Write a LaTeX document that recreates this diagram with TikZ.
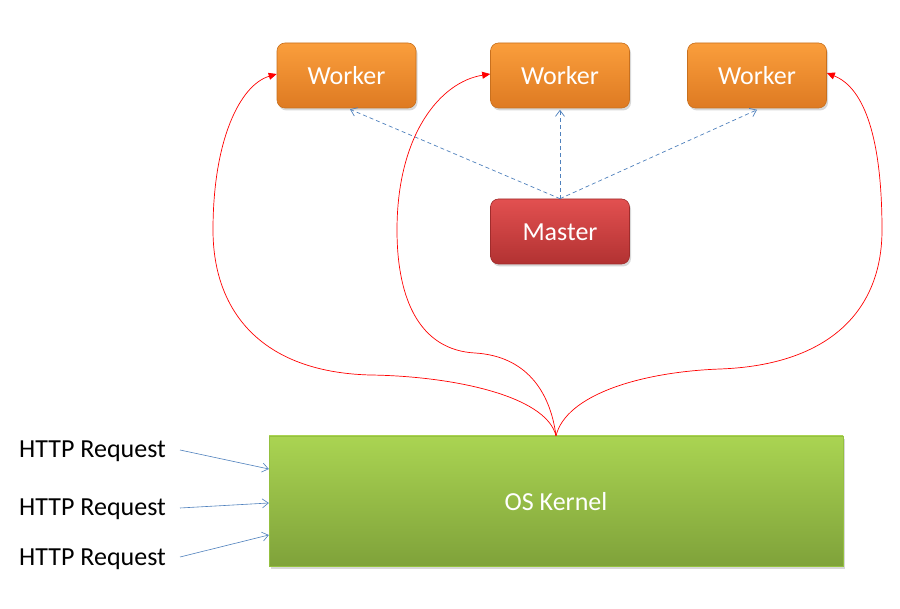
\documentclass[tikz,border=0pt]{standalone}
\usepackage{fontspec}
\setmainfont{Carlito}
\usetikzlibrary{arrows.meta,shadows}
\definecolor{wtop}{HTML}{FA9E3C}
\definecolor{wbot}{HTML}{DE7A22}
\definecolor{wdraw}{HTML}{C8701E}
\definecolor{mtop}{HTML}{E25050}
\definecolor{mbot}{HTML}{B23232}
\definecolor{mdraw}{HTML}{A02C2C}
\definecolor{ktop}{HTML}{AAD452}
\definecolor{kbot}{HTML}{7FA23A}
\definecolor{kdraw}{HTML}{94C040}
\definecolor{linkblue}{HTML}{4F81BD}
\tikzset{
  boxbase/.style={minimum width=139pt, minimum height=65pt, rounded corners=8pt,
    text=white, font=\fontsize{26}{30}\selectfont, line width=0.6pt,
    text depth=0pt, text height=19pt,
    drop shadow={shadow xshift=1.5pt, shadow yshift=-2.5pt, opacity=0.3}},
  workerbox/.style={boxbase, draw=wdraw, top color=wtop, bottom color=wbot},
  masterbox/.style={boxbase, draw=mdraw, top color=mtop, bottom color=mbot},
  kernelbox/.style={minimum width=574pt, minimum height=130pt, draw=kdraw,
    top color=ktop, bottom color=kbot, text=white, font=\fontsize{26}{30}\selectfont,
    text depth=0pt, text height=20pt,
    drop shadow={shadow xshift=2pt, shadow yshift=-3pt, opacity=0.3}},
  reqtext/.style={anchor=base west, inner sep=0pt, font=\fontsize{26}{30}\selectfont},
  reqarrow/.style={draw=linkblue, line width=0.6pt, -{Straight Barb[length=6pt,width=9pt]}},
  ctrlarrow/.style={draw=linkblue, line width=0.7pt, dash pattern=on 4pt off 3pt,
    -{Straight Barb[length=6pt,width=9pt]}},
  forkarrow/.style={draw=red, line width=0.7pt, -{Triangle[length=8pt,width=7pt]}}
}
\begin{document}
\begin{tikzpicture}[x=1pt,y=-1pt]
\useasboundingbox (0,0) rectangle (900,609);
\fill[white] (0,0) rectangle (900,609);

\node[workerbox] (w1) at (346.5,75.5) {Worker};
\node[workerbox] (w2) at (560,75.5) {Worker};
\node[workerbox] (w3) at (757,75.5) {Worker};
\node[masterbox] (m) at (560,231.5) {Master};
\node[kernelbox] (k) at (556,501) {OS Kernel};

\node[reqtext] (h1) at (19,458) {HTTP Request};
\node[reqtext] (h2) at (19,515) {HTTP Request};
\node[reqtext] (h3) at (19,565) {HTTP Request};

% request arrows
\coordinate (h1s) at (180,450);
\coordinate (h2s) at (180,508);
\coordinate (h3s) at (180,557);
\draw[reqarrow] (h1s) -- (k.west |- 0,469);
\draw[reqarrow] (h2s) -- (k.west |- 0,503);
\draw[reqarrow] (h3s) -- (k.west |- 0,535);

% master to workers
\coordinate (mt) at (m.north);
\draw[ctrlarrow] (mt) -- ([xshift=3.5pt,yshift=-1pt]w1.south);
\draw[ctrlarrow] (mt) -- ([yshift=-1.5pt]w2.south);
\draw[ctrlarrow] (mt) -- ([yshift=-1.5pt]w3.south);

% kernel to workers
\coordinate (kt) at (k.north);
\draw[forkarrow] (kt) .. controls (546,395) and (450,376) .. (370,375)
  .. controls (260,372) and (213,310) .. (213,230)
  .. controls (213,140) and (240,85) .. ([yshift=1.5pt]w1.west);
\draw[forkarrow] (kt) .. controls (550,390) and (525,356) .. (475,353)
  .. controls (420,350) and (397,300) .. (397,230)
  .. controls (397,135) and (440,82) .. ([yshift=1.5pt]w2.west);
\draw[forkarrow] (kt) .. controls (566,395) and (640,372) .. (720,369)
  .. controls (830,365) and (882,310) .. (882,230)
  .. controls (882,140) and (865,88) .. ([yshift=2.5pt]w3.east);
\end{tikzpicture}
\end{document}
